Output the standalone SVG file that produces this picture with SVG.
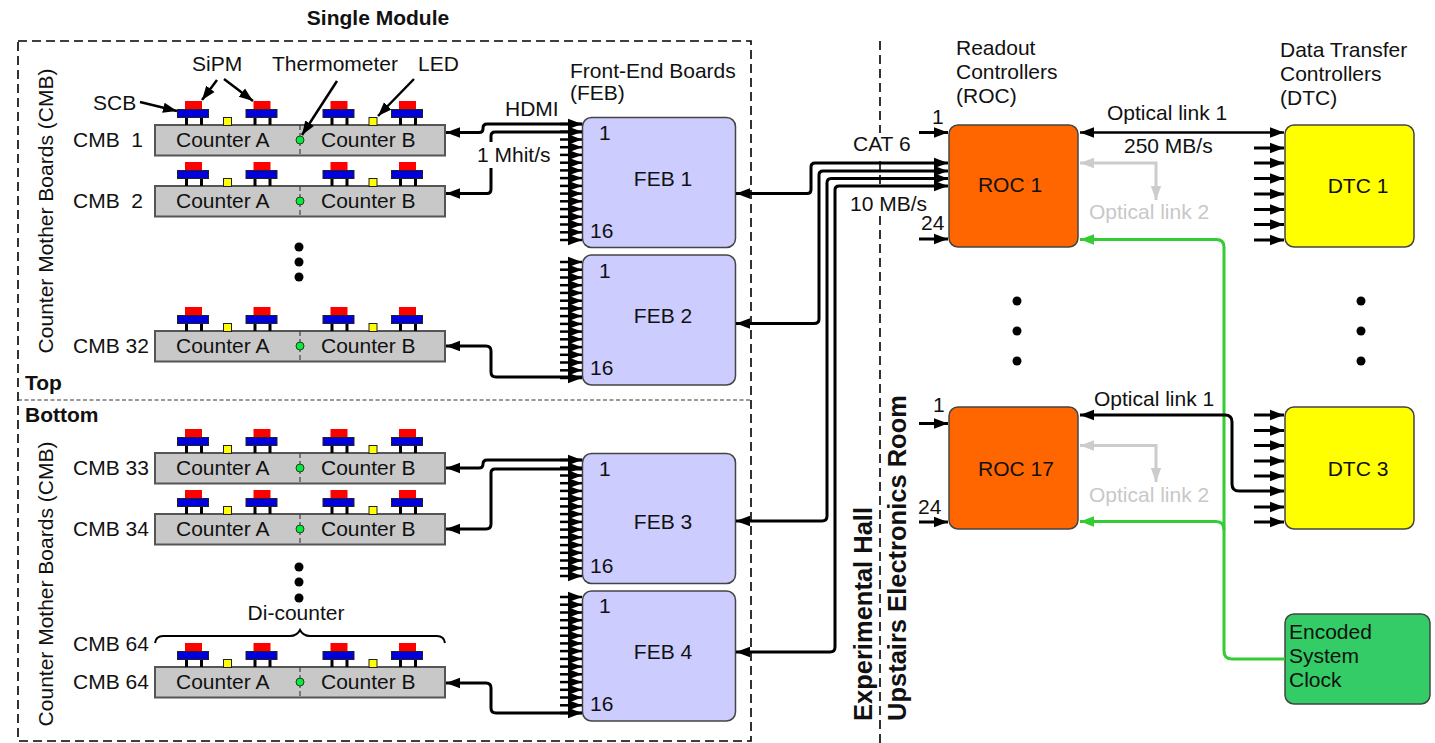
<svg xmlns="http://www.w3.org/2000/svg" width="1435" height="743" viewBox="0 0 1435 743">
<style>
text{font-family:"Liberation Sans",Arial,sans-serif;font-size:21px;fill:#111;white-space:pre}
.b{font-weight:bold}
.bb{font-weight:bold;font-size:25.500px}
.m{text-anchor:middle}
.g{fill:#c8c8c8}
.c{fill:#c8c8c8;stroke:#555;stroke-width:2}
.feb{fill:#ccccff;stroke:#444;stroke-width:1.5}
.roc{fill:#ff6600;stroke:#444;stroke-width:1.5}
.dtc{fill:#ffff00;stroke:#444;stroke-width:1.5}
.clk{fill:#33cc66;stroke:#444;stroke-width:1.5}
.w{fill:none;stroke:#000;stroke-width:3;stroke-linejoin:round}
.t{fill:none;stroke:#000;stroke-width:2.5}
.a{marker-end:url(#ah)}
.s{marker-start:url(#ahs)}
.gr{fill:none;stroke:#cccccc;stroke-width:3;marker-end:url(#ahg)}
.grs{marker-start:url(#ahgs)}
.gn{fill:none;stroke:#33cc33;stroke-width:3;marker-end:url(#ahn)}
.dash{fill:none;stroke:#000;stroke-width:1.6;stroke-dasharray:9 5}
.dot{fill:#000}
</style>
<defs>
<marker id="ah" markerUnits="userSpaceOnUse" markerWidth="16" markerHeight="12" refX="14" refY="6" orient="auto"><path d="M0 0.800L14 6L0 11.200Z" fill="#000"/></marker>
<marker id="ahs" markerUnits="userSpaceOnUse" markerWidth="16" markerHeight="12" refX="0" refY="6" orient="auto"><path d="M14 0.800L0 6L14 11.200Z" fill="#000"/></marker>
<marker id="ahg" markerUnits="userSpaceOnUse" markerWidth="16" markerHeight="12" refX="14" refY="6" orient="auto"><path d="M0 0.800L14 6L0 11.200Z" fill="#cccccc"/></marker>
<marker id="ahgs" markerUnits="userSpaceOnUse" markerWidth="16" markerHeight="12" refX="0" refY="6" orient="auto"><path d="M14 0.800L0 6L14 11.200Z" fill="#cccccc"/></marker>
<marker id="ahn" markerUnits="userSpaceOnUse" markerWidth="16" markerHeight="12" refX="14" refY="6" orient="auto"><path d="M0 0.800L14 6L0 11.200Z" fill="#33cc33"/></marker>
<g id="sipm">
<path d="M186.500 117V125M201.500 117V125" stroke="#000" stroke-width="3" fill="none"/>
<rect x="185" y="101" width="17" height="8.500" fill="#ff0000"/>
<rect x="177.500" y="109.500" width="31" height="8" fill="#0000dd" stroke="#222" stroke-width="1"/>
</g>
<g id="sensors">
<use href="#sipm"/>
<use href="#sipm" x="68.500"/>
<use href="#sipm" x="145.500"/>
<use href="#sipm" x="214"/>
<rect x="223.500" y="117.500" width="8" height="8" fill="#ffff00" stroke="#222" stroke-width="1"/>
<rect x="369" y="117.500" width="8" height="8" fill="#ffff00" stroke="#222" stroke-width="1"/>
</g>
<g id="board">
<rect class="c" x="155" y="125" width="290" height="30.500"/>
<path d="M300 125V156" stroke="#444" stroke-width="1.200" stroke-dasharray="5 3" fill="none"/>
<circle cx="300" cy="140" r="4" fill="#00ee33" stroke="#333" stroke-width="1"/>
<use href="#sensors"/>
</g>
<path id="i" class="w a" style="stroke-width:2.500" d="M560 0H582"/>
<g id="febin">
<use href="#i"/><use href="#i" y="7.700"/><use href="#i" y="15.500"/><use href="#i" y="23.200"/><use href="#i" y="30.900"/><use href="#i" y="38.700"/><use href="#i" y="46.400"/><use href="#i" y="54.100"/><use href="#i" y="61.900"/><use href="#i" y="69.600"/><use href="#i" y="77.300"/><use href="#i" y="85.100"/><use href="#i" y="92.800"/><use href="#i" y="100.500"/><use href="#i" y="108.300"/><use href="#i" y="116"/>
</g>
<path id="d" class="w a" d="M1254 0H1284"/>
</defs>

<g id="frames">
<rect class="dash" x="18" y="41" width="733" height="700"/>
<path d="M18 400H751" fill="none" stroke="#333" stroke-width="1" stroke-dasharray="4 2.500"/>
<path class="dash" d="M880 41V133M880 161V187M880 216V743"/>
</g>

<g id="cmb1"><use href="#board"/><text x="176" y="147">Counter A</text><text x="321" y="147">Counter B</text><text x="73" y="147">CMB  1</text></g>
<g id="cmb2"><use href="#board" y="61"/><text x="176" y="208">Counter A</text><text x="321" y="208">Counter B</text><text x="73" y="208">CMB  2</text></g>
<g id="cmb32"><use href="#board" y="206"/><text x="176" y="353">Counter A</text><text x="321" y="353">Counter B</text><text x="73" y="353">CMB 32</text></g>
<g id="cmb33"><use href="#board" y="328"/><text x="176" y="475">Counter A</text><text x="321" y="475">Counter B</text><text x="73" y="475">CMB 33</text></g>
<g id="cmb34"><use href="#board" y="389"/><text x="176" y="536">Counter A</text><text x="321" y="536">Counter B</text><text x="73" y="536">CMB 34</text></g>
<g id="cmb64"><use href="#board" y="542"/><text x="176" y="689">Counter A</text><text x="321" y="689">Counter B</text><text x="73" y="689">CMB 64</text></g>

<g id="feb1"><rect class="feb" x="582.500" y="117.500" width="153" height="130" rx="9"/><text x="599" y="140">1</text><text x="590" y="238">16</text><text class="m" x="663" y="186">FEB 1</text></g>
<g id="feb2"><rect class="feb" x="582.500" y="255" width="153" height="130" rx="9"/><text x="599" y="278">1</text><text x="590" y="375">16</text><text class="m" x="663" y="323">FEB 2</text></g>
<g id="feb3"><rect class="feb" x="582.500" y="453.500" width="153" height="130" rx="9"/><text x="599" y="476">1</text><text x="590" y="573">16</text><text class="m" x="663" y="529">FEB 3</text></g>
<g id="feb4"><rect class="feb" x="582.500" y="591" width="153" height="130" rx="9"/><text x="599" y="613">1</text><text x="590" y="711">16</text><text class="m" x="663" y="659">FEB 4</text></g>

<g id="roc1"><rect class="roc" x="949" y="125" width="129" height="122" rx="9"/><text class="m" x="1010" y="192">ROC 1</text></g>
<g id="roc17"><rect class="roc" x="949" y="407" width="129" height="122" rx="9"/><text class="m" x="1016" y="476">ROC 17</text></g>
<g id="dtc1"><rect class="dtc" x="1285" y="125" width="129" height="122" rx="9"/><text class="m" x="1358" y="193">DTC 1</text></g>
<g id="dtc3"><rect class="dtc" x="1285" y="407" width="129" height="122" rx="9"/><text class="m" x="1358" y="476">DTC 3</text></g>
<g id="clock"><rect class="clk" x="1285" y="614" width="145" height="90" rx="9"/><text x="1289" y="639">Encoded</text><text x="1289" y="663">System</text><text x="1289" y="687">Clock</text></g>

<g id="connectors">
<use href="#febin" y="124"/><use href="#febin" y="262"/><use href="#febin" y="460"/><use href="#febin" y="597"/>
<path class="w a" d="M582 124H487Q483 124 483 128V129Q483 132.500 479 132.500H446"/>
<path class="w" d="M582 132H495Q491 132 491 136V142"/>
<path class="w a" d="M491 168V189Q491 193.500 487 193.500H446"/>
<path class="w a" d="M582 377H496Q491 377 491 372V351Q491 346 486 346H446"/>
<path class="w a" d="M582 460H487Q483 460 483 464V464Q483 468 479 468H446"/>
<path class="w a" d="M582 469H495Q491 469 491 473V524Q491 529 486 529H446"/>
<path class="w a" d="M582 713H496Q491 713 491 708V688Q491 683 486 683H446"/>
<path class="w a s" d="M736 193.500H807Q811 193.500 811 189.500V167Q811 163 815 163H948"/>
<path class="w a s" d="M736 323.500H814Q819 323.500 819 319V175Q819 171 823 171H948"/>
<path class="w a s" d="M736 521H822Q827 521 827 516V183Q827 178.500 831 178.500H948"/>
<path class="w a s" d="M736 652H830Q835 652 835 647V190Q835 186 839 186H948"/>
<path class="w a" d="M919 132.500H948"/><path class="w a" d="M919 239H948"/>
<path class="w a" d="M919 423.500H948"/><path class="w a" d="M919 522H948"/>
<path class="t a s" d="M1080 132.500H1284"/>
<use href="#d" y="148"/><use href="#d" y="163"/><use href="#d" y="178.500"/><use href="#d" y="194"/><use href="#d" y="209.500"/><use href="#d" y="224.500"/><use href="#d" y="240"/>
<use href="#d" y="415"/><use href="#d" y="430.500"/><use href="#d" y="445.500"/><use href="#d" y="461"/><use href="#d" y="476"/><use href="#d" y="507"/><use href="#d" y="522"/>
<path class="gr grs" d="M1080 163H1156V200"/>
<path class="gr grs" d="M1080 445.500H1156V482"/>
<path class="gn" d="M1285 659H1232Q1224 659 1224 651V247Q1224 239.500 1216 239.500H1080"/>
<path class="gn" d="M1224 530Q1224 521.500 1216 521.500H1080"/>
<path class="w s a" d="M1080 415H1225Q1232 415 1232 422V484Q1232 491 1239 491H1284"/>
<path class="t a" d="M140 102L177 111"/>
<path class="t a" d="M217 80L202 100"/>
<path class="t a" d="M224 79L253 101"/>
<path class="t a" d="M337 81L302 135"/>
<path class="t a" d="M414 79L378 116"/>
<path d="M155 643Q156 636 163 636H290Q297 636 300 630Q303 636 310 636H437Q444 636 445 643" fill="none" stroke="#000" stroke-width="2"/>
</g>

<g id="dots">
<circle class="dot" cx="299" cy="247" r="4.500"/><circle class="dot" cx="299" cy="262" r="4.500"/><circle class="dot" cx="299" cy="277" r="4.500"/>
<circle class="dot" cx="299" cy="567" r="4.500"/><circle class="dot" cx="299" cy="582" r="4.500"/><circle class="dot" cx="299" cy="598" r="4.500"/>
<circle class="dot" cx="1017" cy="301" r="4.500"/><circle class="dot" cx="1017" cy="331" r="4.500"/><circle class="dot" cx="1017" cy="361" r="4.500"/>
<circle class="dot" cx="1361" cy="301" r="4.500"/><circle class="dot" cx="1361" cy="331" r="4.500"/><circle class="dot" cx="1361" cy="361" r="4.500"/>
</g>

<g id="labels">
<text class="b m" x="378" y="25">Single Module</text>
<text class="b" x="25" y="390">Top</text>
<text class="b" x="25" y="422">Bottom</text>
<text class="m" transform="translate(53 211) rotate(-90)">Counter Mother Boards (CMB)</text>
<text class="m" transform="translate(53 584) rotate(-90)">Counter Mother Boards (CMB)</text>
<text x="192" y="71">SiPM</text><text x="272" y="71">Thermometer</text><text x="418" y="71">LED</text><text x="93" y="110">SCB</text>
<text class="m" x="296" y="620">Di-counter</text><text x="73" y="651">CMB 64</text>
<text x="570" y="78">Front-End Boards</text><text x="570" y="100">(FEB)</text>
<text x="505" y="116">HDMI</text><text x="477" y="162">1 Mhit/s</text>
<text x="853" y="151">CAT 6</text><text x="850" y="211">10 MB/s</text>
<text x="932" y="124">1</text><text x="921" y="230">24</text><text x="933" y="412">1</text><text x="918" y="514">24</text>
<text x="956" y="55">Readout</text><text x="956" y="79">Controllers</text><text x="956" y="103">(ROC)</text>
<text x="1280" y="57">Data Transfer</text><text x="1280" y="81">Controllers</text><text x="1280" y="105">(DTC)</text>
<text x="1107" y="120">Optical link 1</text><text x="1124" y="153">250 MB/s</text><text class="g" x="1089" y="219">Optical link 2</text>
<text x="1094" y="406">Optical link 1</text><text class="g" x="1089" y="502">Optical link 2</text>
<text class="bb" transform="translate(872 721) rotate(-90)">Experimental Hall</text>
<text class="bb" transform="translate(906 721) rotate(-90)">Upstairs Electronics Room</text>
</g>
</svg>
